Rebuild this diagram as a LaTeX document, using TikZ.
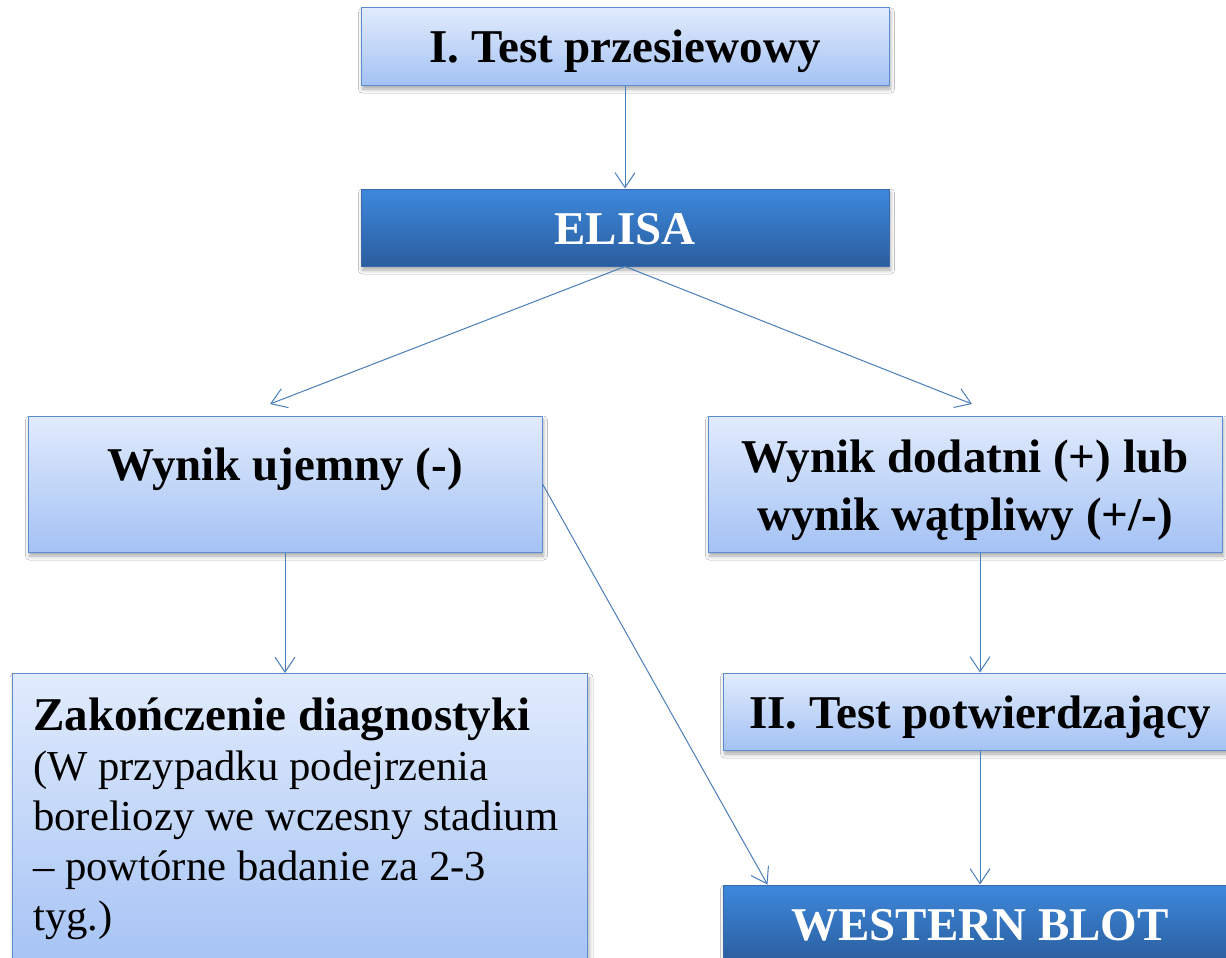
\documentclass[tikz,border=0pt]{standalone}
\usepackage{fontspec}
\setmainfont{Liberation Serif}
\usetikzlibrary{arrows.meta,shadows.blur,calc}
\definecolor{lbtop}{RGB}{225,235,253}
\definecolor{lbbot}{RGB}{164,194,244}
\definecolor{lbline}{RGB}{91,139,208}
\definecolor{dbtop}{RGB}{62,136,220}
\definecolor{dbbot}{RGB}{42,94,158}
\definecolor{dbline}{RGB}{58,104,170}
\definecolor{arr}{RGB}{74,126,187}
\tikzset{
  x=1pt,y=-1pt,
  boxshadow/.style={blur shadow={shadow xshift=1.5pt,shadow yshift=-4pt,shadow blur radius=4pt,shadow opacity=35}},
  lbox/.style={draw=lbline,line width=1pt,top color=lbtop,bottom color=lbbot,boxshadow,inner sep=0pt},
  dbox/.style={draw=dbline,line width=1pt,top color=dbtop,bottom color=dbbot,boxshadow,inner sep=0pt,text=white},
  bigb/.style={font=\fontsize{47}{57}\selectfont\bfseries},
  flat/.style={minimum width=#1,text height=55pt,text depth=22pt},
  conn/.style={draw=arr,line width=1pt,-{Straight Barb[length=15pt,width=20pt]}}
}
\begin{document}
\begin{tikzpicture}
\useasboundingbox[fill=white] (0,0) rectangle (1226,958);
% boxes
\node[lbox,bigb,flat=528pt] (t1) at (625,46.5) {I. Test przesiewowy};
\node[dbox,bigb,flat=528pt] (elisa) at (625,227.5) {ELISA};
\node[lbox,bigb,minimum width=514pt,text height=64pt,text depth=72pt] (neg) at (285,484) {Wynik ujemny (-)};
\node[lbox,minimum width=514pt,minimum height=136pt] (pos) at (965,484) {};
\node[anchor=north,inner sep=0pt,align=center,font=\fontsize{47}{58}\selectfont\bfseries] (postxt) at (965,439.5)
  {Wynik dodatni (+) lub\\wynik wątpliwy (+/-)};
\node[lbox,minimum width=575pt,minimum height=300pt,anchor=north west] (zak) at (12,673) {};
\node[anchor=north west,inner sep=0pt,align=left,font=\fontsize{42.7}{50}\selectfont] (zaktxt) at (33,697.5)
  {{\fontsize{47}{52}\selectfont\bfseries Zakończenie diagnostyki}\\(W przypadku podejrzenia\\boreliozy we wczesny stadium\\– powtórne badanie za 2-3\\tyg.)};
\node[lbox,bigb,flat=514pt] (t2) at (980,711.5) {II. Test potwierdzający};
\node[dbox,bigb,flat=514pt] (wb) at (980,923.5) {WESTERN BLOT};
% free ends
\coordinate (negtip) at (270,404);
\coordinate (postip) at (972,404);
% connectors
\draw[conn] (t1.south) -- (elisa.north);
\draw[conn] (elisa.south) -- (negtip);
\draw[conn] (elisa.south) -- (postip);
\draw[conn] (neg.south) -- (neg.south |- zak.north);
\draw[conn] (neg.east) -- ($(wb.north west)+(45,0)$);
\draw[conn] (t2.north |- pos.south) -- (t2.north);
\draw[conn] (t2.south) -- (wb.north);
\end{tikzpicture}
\end{document}
